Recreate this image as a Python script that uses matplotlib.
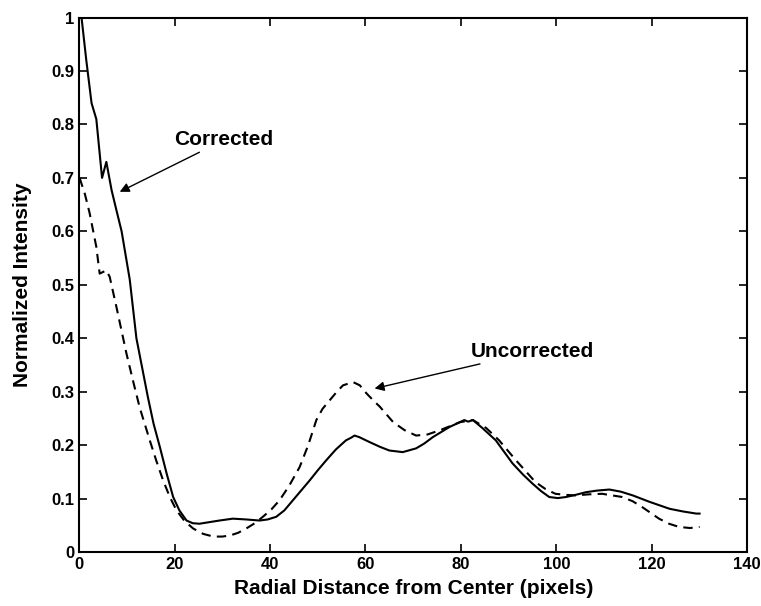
import numpy as np
import matplotlib
matplotlib.use("Agg")
import matplotlib.pyplot as plt

plt.rcParams['font.family'] = ['Liberation Sans', 'DejaVu Sans']
plt.rcParams['font.weight'] = 'bold'
plt.rcParams['axes.labelweight'] = 'bold'

# corrected profile (solid)
x_corr = [0.5, 1.5, 2.6, 3.6, 4.8, 5.7, 6.8, 7.8, 8.9, 10.6, 12.0, 13.2, 14.4, 15.6, 16.9,
          18.3, 19.7, 21.0, 22.5, 23.8, 25.2, 27.3, 29.4, 32.2, 35.0, 37.8, 39.5, 41.3,
          43.0, 44.8, 46.5, 48.3, 50.0, 51.8, 53.8, 55.9, 57.0, 57.7, 58.7,
          60.8, 63.0, 65.0, 67.8, 70.6, 72.3, 74.1, 77.6, 80.7, 81.5, 82.5, 84.5, 87.3,
          90.8, 93.0, 95.0, 96.8, 98.5, 100.3, 102.0, 104.0, 106.2, 108.5, 111.1, 113.5,
          116.0, 119.5, 123.7, 126.5, 129.3, 130.0]
y_corr = [1.0, 0.92, 0.84, 0.81, 0.70, 0.73, 0.677, 0.64, 0.60, 0.51, 0.40, 0.345, 0.29, 0.24, 0.197,
          0.148, 0.103, 0.078, 0.059, 0.054, 0.053, 0.056, 0.059, 0.0625, 0.061, 0.059, 0.061, 0.066,
          0.078, 0.097, 0.115, 0.134, 0.153, 0.172, 0.192, 0.209, 0.214, 0.218, 0.215,
          0.206, 0.197, 0.19, 0.187, 0.194, 0.203, 0.215, 0.234, 0.247, 0.244, 0.247, 0.232, 0.209,
          0.166, 0.145, 0.128, 0.114, 0.103, 0.101, 0.103, 0.107, 0.112, 0.115, 0.117, 0.113,
          0.106, 0.094, 0.081, 0.076, 0.072, 0.072]

# uncorrected profile (dashed)
x_unc = [0.1, 1.2, 2.2, 3.6, 4.3, 5.7, 6.4, 7.8, 9.9, 11.3, 12.7, 14.8, 16.2, 17.6, 19.0, 20.4,
         22.1, 23.9, 26.0, 28.1, 30.0, 31.6, 33.3, 35.0, 36.8, 38.5, 40.3, 42.0, 44.0, 46.2,
         48.0, 49.7, 51.0, 52.5, 54.0, 55.3, 57.4, 58.8,
         60.2, 61.6, 63.0, 65.8, 68.2, 70.6, 73.0, 75.6, 79.8, 82.5, 85.3, 88.0, 91.5, 95.6, 97.7,
         99.8, 102.0, 104.0, 106.8, 109.6, 113.8, 116.0, 118.0, 121.5, 123.6, 125.7, 128.0, 130.0]
y_unc = [0.70, 0.67, 0.634, 0.571, 0.521, 0.527, 0.515, 0.459, 0.372, 0.32, 0.27, 0.209, 0.17, 0.134, 0.103, 0.078,
         0.058, 0.044, 0.034, 0.029, 0.029, 0.031, 0.036, 0.044, 0.054, 0.066, 0.080, 0.097, 0.124, 0.159,
         0.200, 0.247, 0.268, 0.284, 0.300, 0.312, 0.318, 0.312,
         0.297, 0.284, 0.272, 0.243, 0.228, 0.218, 0.22, 0.228, 0.243, 0.247, 0.232, 0.209, 0.172, 0.131, 0.118,
         0.109, 0.107, 0.106, 0.108, 0.109, 0.103, 0.095, 0.084, 0.0625, 0.053, 0.047, 0.045, 0.047]

fig = plt.figure(figsize=(7.61, 6.06), dpi=100)
ax = fig.add_axes([0.104, 0.089, 0.878, 0.882])

ax.plot(x_corr, y_corr, color='black', lw=1.5, ls='-')
ax.plot(x_unc, y_unc, color='black', lw=1.5, ls=(0, (4.5, 3)))

ax.set_xlim(0, 140)
ax.set_ylim(0, 1)
ax.set_xticks(np.arange(0, 141, 20))
ax.set_yticks(np.arange(0, 1.01, 0.1))
ax.set_yticklabels(['0', '0.1', '0.2', '0.3', '0.4', '0.5', '0.6', '0.7', '0.8', '0.9', '1'])
ax.tick_params(direction='in', top=True, right=True, length=6, width=1.2, labelsize=12)
for s in ax.spines.values():
    s.set_linewidth(1.5)

ax.set_xlabel('Radial Distance from Center (pixels)', fontsize=15, labelpad=5)
ax.set_ylabel('Normalized Intensity', fontsize=15, labelpad=14)

arrow = dict(arrowstyle='-|>', color='black', lw=1.0, mutation_scale=14, shrinkA=0, shrinkB=0)
ax.annotate('Corrected', xy=(8.5, 0.674), xytext=(20, 0.771), fontsize=15,
            va='center', ha='left', arrowprops=arrow)
ax.annotate('Uncorrected', xy=(61.9, 0.306), xytext=(82.1, 0.375), fontsize=15,
            va='center', ha='left', arrowprops=arrow)

fig.savefig('out.png', dpi=100)
